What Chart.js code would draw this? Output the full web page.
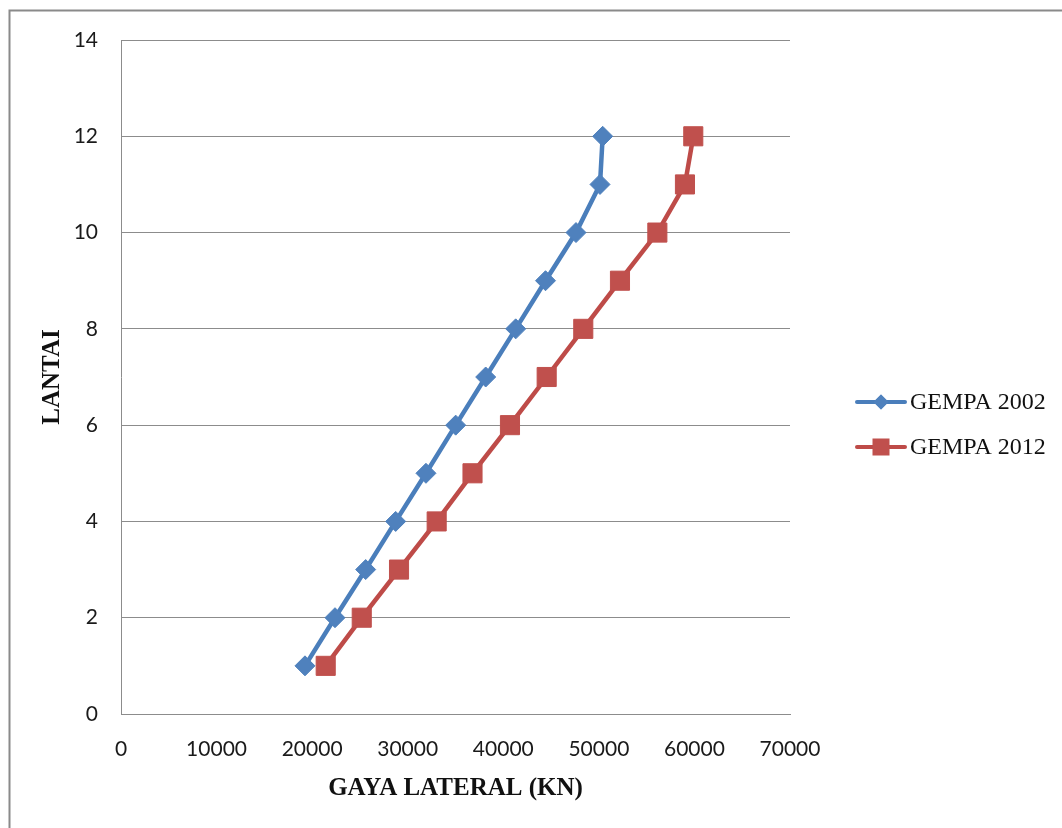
<!DOCTYPE html>
<html>
<head>
<meta charset="utf-8">
<script src="https://cdn.jsdelivr.net/npm/chart.js@4"></script>
<style>
    body { margin: 0; background: #fff; }
    #wrap { width: 1062px; height: 828px; }
</style>
</head>
<body>
<div id="wrap"><canvas id="lateralChart" width="1062" height="828"></canvas></div>
<script>
// lantai (floor) vs lateral force
const lantai = [1, 2, 3, 4, 5, 6, 7, 8, 9, 10, 11, 12];
const gempa2002 = [19250, 22390, 25600, 28740, 31910, 35020, 38160, 41300, 44420, 47610, 50120, 50400];
const gempa2012 = [21420, 25190, 29090, 33030, 36780, 40700, 44540, 48370, 52210, 56120, 59010, 59880];
const seriesNames = ['GEMPA 2002', 'GEMPA 2012'];
const xTicks = [0, 10000, 20000, 30000, 40000, 50000, 60000, 70000];
const yTicks = [0, 2, 4, 6, 8, 10, 12, 14];

const toPoints = values => values.map((v, i) => ({ x: v, y: lantai[i] }));

// outer frame of the chart
const framePlugin = {
    id: 'frame',
    beforeDraw(chart) {
        const c = chart.ctx;
        c.save();
        c.fillStyle = '#fff';
        c.fillRect(0, 0, chart.width, chart.height);
        c.strokeStyle = '#8a8a8a';
        c.lineWidth = 2;
        c.strokeRect(9.5, 10.5, 1200, 1000);
        c.restore();
    }
};

// legend on the right, line + marker + label
const sideLegend = {
    id: 'sideLegend',
    afterDraw(chart) {
        const c = chart.ctx;
        const rows = [402, 447];
        chart.data.datasets.forEach((ds, i) => {
            const y = rows[i];
            c.save();
            c.strokeStyle = ds.borderColor;
            c.lineWidth = 4;
            c.lineCap = 'round';
            c.beginPath();
            c.moveTo(857, y);
            c.lineTo(905, y);
            c.stroke();
            c.fillStyle = ds.pointBackgroundColor;
            if (ds.pointStyle === 'rectRot') {
                Chart.helpers.drawPoint(c, { pointStyle: 'rectRot', radius: 7.5, borderWidth: 0 }, 881, y);
                c.fill();
            } else {
                c.fillRect(881 - 8.5, y - 8.5, 17, 17);
            }
            c.fillStyle = '#111';
            c.font = '24px "Liberation Serif"';
            c.textBaseline = 'middle';
            c.fillText(ds.label, 910, y + 1);
            c.restore();
        });
    }
};

const ctx = document.getElementById('lateralChart').getContext('2d');

new Chart(ctx, {
    type: 'line',
    data: {
        datasets: [{
            label: seriesNames[0],
            data: toPoints(gempa2002),
            borderColor: '#4A7EBB',
            backgroundColor: '#4F81BD',
            pointBackgroundColor: '#4F81BD',
            pointBorderColor: '#4F81BD',
            pointStyle: 'rectRot',
            pointRadius: 10,
            pointBorderWidth: 1,
            borderWidth: 4.5,
            tension: 0
        }, {
            label: seriesNames[1],
            data: toPoints(gempa2012),
            borderColor: '#BE4B48',
            backgroundColor: '#C0504D',
            pointBackgroundColor: '#C0504D',
            pointBorderColor: '#C0504D',
            pointStyle: 'rect',
            pointRadius: 13.5,
            pointBorderWidth: 1,
            borderWidth: 4.5,
            tension: 0
        }]
    },
    options: {
        responsive: false,
        animation: false,
        layout: {
            padding: { left: 0, top: 40, right: 272, bottom: 0 }
        },
        plugins: {
            legend: { display: false },
            tooltip: { enabled: false }
        },
        scales: {
            x: {
                type: 'linear',
                min: 0,
                max: 70000,
                afterBuildTicks: scale => { scale.ticks = xTicks.map(v => ({ value: v })); },
                afterFit: scale => { scale.height = 114; },
                grid: { display: false, drawTicks: false },
                border: { display: true, color: '#8c8c8c', width: 1 },
                ticks: {
                    padding: 23,
                    color: '#1a1a1a',
                    font: { family: 'Lato', size: 21 },
                    callback: v => String(v)
                },
                title: {
                    display: true,
                    text: 'GAYA LATERAL (KN)',
                    color: '#111',
                    font: { family: '"Liberation Serif"', size: 25, weight: 'bold' },
                    padding: { top: 0, bottom: 24 }
                }
            },
            y: {
                type: 'linear',
                min: 0,
                max: 14,
                afterBuildTicks: scale => { scale.ticks = yTicks.map(v => ({ value: v })); },
                afterFit: scale => { scale.width = 121; },
                grid: { display: true, drawTicks: false, color: '#8c8c8c', lineWidth: 1 },
                border: { display: true, color: '#8c8c8c', width: 1 },
                ticks: {
                    padding: 23,
                    color: '#1a1a1a',
                    font: { family: 'Lato', size: 21 }
                },
                title: {
                    display: true,
                    text: 'LANTAI',
                    color: '#111',
                    font: { family: '"Liberation Serif"', size: 25, weight: 'bold' },
                    padding: { top: 38, bottom: 0 }
                }
            }
        }
    },
    plugins: [framePlugin, sideLegend]
});
</script>
</body>
</html>
